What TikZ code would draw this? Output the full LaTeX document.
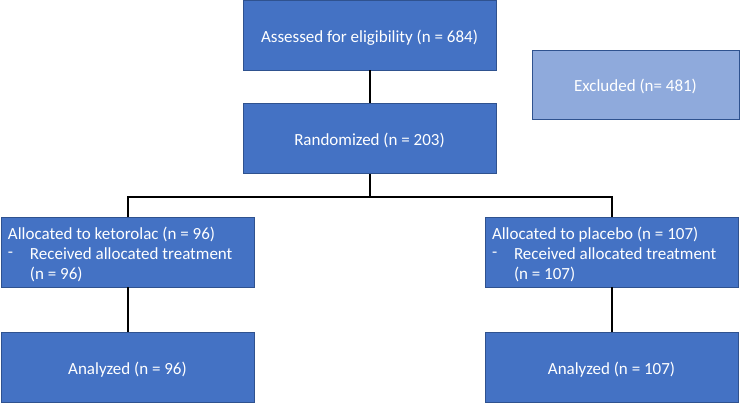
\documentclass[tikz,border=0pt]{standalone}
\usepackage{fontspec}
\setmainfont{Carlito}
\definecolor{boxblue}{HTML}{4472C4}
\definecolor{boxedge}{HTML}{2F528F}
\definecolor{lightblue}{HTML}{8FAADC}
\newcommand{\alloclist}[2]{\raisebox{-3.5pt}[\height][\depth]{\makebox[239pt][l]{\begin{tabular}{@{}l@{}}#1\\
  \makebox[22pt][l]{\raisebox{2pt}{-}}Received allocated treatment\\
  \hspace*{22pt}#2\end{tabular}}}}
\begin{document}
\begin{tikzpicture}[x=1pt,y=-1pt,
  box/.style={draw=boxedge, line width=0.9pt, fill=boxblue, text=white, inner sep=0pt,
    minimum width=253pt, minimum height=70pt, font=\fontsize{17}{20}\selectfont},
  onebox/.style={box, text height=14.6pt, text depth=0pt},
  lightbox/.style={onebox, fill=lightblue, minimum width=207pt, minimum height=69pt},
  conn/.style={draw=black, line width=2pt}]
\useasboundingbox (0,0) rectangle (740,403);
\node[onebox] (assess) at (369.5,35) {Assessed for eligibility (n = 684)};
\node[onebox] (rand) at (369.5,138.5) {Randomized (n = 203)};
\node[lightbox] (excl) at (635.5,84.5) {Excluded (n= 481)};
\node[box] (allocL) at (127.5,252) {\alloclist{Allocated to ketorolac (n = 96)}{(n = 96)}};
\node[box] (allocR) at (611.5,252) {\alloclist{Allocated to placebo (n = 107)}{(n = 107)}};
\node[onebox] (anaL) at (127.5,367.5) {Analyzed (n = 96)};
\node[onebox] (anaR) at (611.5,367.5) {Analyzed (n = 107)};
\coordinate (split) at (369.5,197);
\draw[conn] (assess.south) -- (rand.north);
\draw[conn] (rand.south) -- (split);
\draw[conn] (split) -| (allocL.north);
\draw[conn] (split) -| (allocR.north);
\draw[conn] (allocL.south) -- (anaL.north);
\draw[conn] (allocR.south) -- (anaR.north);
\end{tikzpicture}
\end{document}
